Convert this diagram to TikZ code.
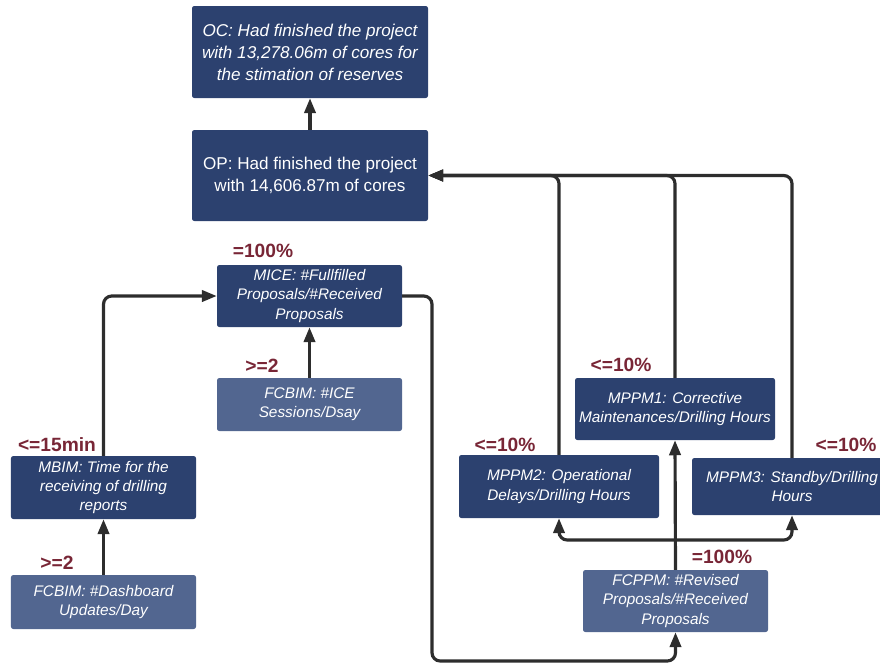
\documentclass[tikz,border=0pt]{standalone}
\usepackage{fontspec}
\setmainfont{Liberation Sans}
\usetikzlibrary{positioning,arrows.meta}
\definecolor{boxdark}{RGB}{44,65,111}
\definecolor{boxlight}{RGB}{82,102,144}
\definecolor{goalred}{RGB}{120,38,54}
\definecolor{wire}{RGB}{45,45,45}
\tikzset{
  kpi/.style={rectangle, rounded corners=2pt, text=white, align=center,
    font=\fontsize{13.1}{16.6}\selectfont\itshape, inner sep=1pt},
  measure/.style={kpi, fill=boxdark},
  factor/.style={kpi, fill=boxlight},
  outcome/.style={measure, minimum width=7.08cm, font=\fontsize{14.6}{18.8}\selectfont\itshape},
  goal/.style={text=goalred, font=\fontsize{16.4}{19}\selectfont\bfseries, inner sep=0pt},
  link/.style={draw=wire, line width=2.7pt, rounded corners=7pt,
    -{Triangle[length=4.5mm,width=3.4mm]}},
}

\begin{document}
\begin{tikzpicture}[x=0.3mm, y=-0.3mm]
        \useasboundingbox (0,0) rectangle (880,664);
        % outcome and output
        \node [outcome, minimum height=2.76cm] (OC) at (310,52)
          {OC: Had finished the project\\with 13,278.06m of cores for\\the stimation of reserves};
        \node [outcome, minimum height=2.73cm, font=\fontsize{14.6}{18.8}\selectfont] (OP) at (310,175.5)
          {OP: Had finished the project\\with 14,606.87m of cores};
        % BIM side
        \node [measure, minimum width=5.55cm, minimum height=1.86cm] (MICE) at (309.5,296)
          {MICE: \#Fullfilled\\Proposals/\#Received\\Proposals};
        \node [factor, minimum width=5.55cm, minimum height=1.59cm] (FCICE) at (309.5,404.5)
          {FCBIM: \#ICE\\Sessions/Dsay};
        \node [measure, minimum width=5.55cm, minimum height=1.89cm] (MBIM) at (103.5,487.5)
          {MBIM: Time for the\\receiving of drilling\\reports};
        \node [factor, minimum width=5.55cm, minimum height=1.62cm] (FCDash) at (103.5,602)
          {FCBIM: \#Dashboard\\Updates/Day};
        % PPM side
        \node [measure, minimum width=6cm, minimum height=1.86cm] (MPPM1) at (675,409)
          {MPPM1: Corrective\\Maintenances/Drilling Hours};
        \node [measure, minimum width=6cm, minimum height=1.89cm] (MPPM2) at (559,486.5)
          {MPPM2: Operational\\Delays/Drilling Hours};
        \node [measure, minimum width=6cm, minimum height=1.71cm] (MPPM3) at (792,486.5)
          {MPPM3: Standby/Drilling\\Hours};
        \node [factor, minimum width=5.55cm, minimum height=1.86cm] (FCPPM) at (675.5,601)
          {FCPPM: \#Revised\\Proposals/\#Received\\Proposals};
        % targets
        \node [goal] (tMICE) at (263,251) {=100\%};
        \node [goal] (tFCICE) at (262,366) {>=2};
        \node [goal] (tMBIM) at (57,445) {<=15min};
        \node [goal] (tFCDash) at (57,563) {>=2};
        \node [goal] (tMPPM1) at (621,365) {<=10\%};
        \node [goal] (tMPPM2) at (505,445) {<=10\%};
        \node [goal] (tMPPM3) at (846,445) {<=10\%};
        \node [goal] (tFCPPM) at (722,557) {=100\%};
        % connectors
        \coordinate (loop) at (432,661);
        \coordinate (split) at (675.5,540);
        \draw [link] (OP) -- (OC);
        \draw [link] (MPPM1.north) |- (OP.east);
        \draw [link] (MPPM2.north) |- (OP.east);
        \draw [link] (MPPM3.north) |- (OP.east);
        \draw [link] (FCICE) -- (MICE);
        \draw [link] (MBIM.north) |- (MICE.west);
        \draw [link] (FCDash) -- (MBIM);
        \draw [link] (MICE.east) -| (loop) -| (FCPPM.south);
        \draw [link] (FCPPM.north) -- (MPPM1.south);
        \draw [link] (split) -| (MPPM2.south);
        \draw [link] (split) -| (MPPM3.south);
\end{tikzpicture}
\end{document}
